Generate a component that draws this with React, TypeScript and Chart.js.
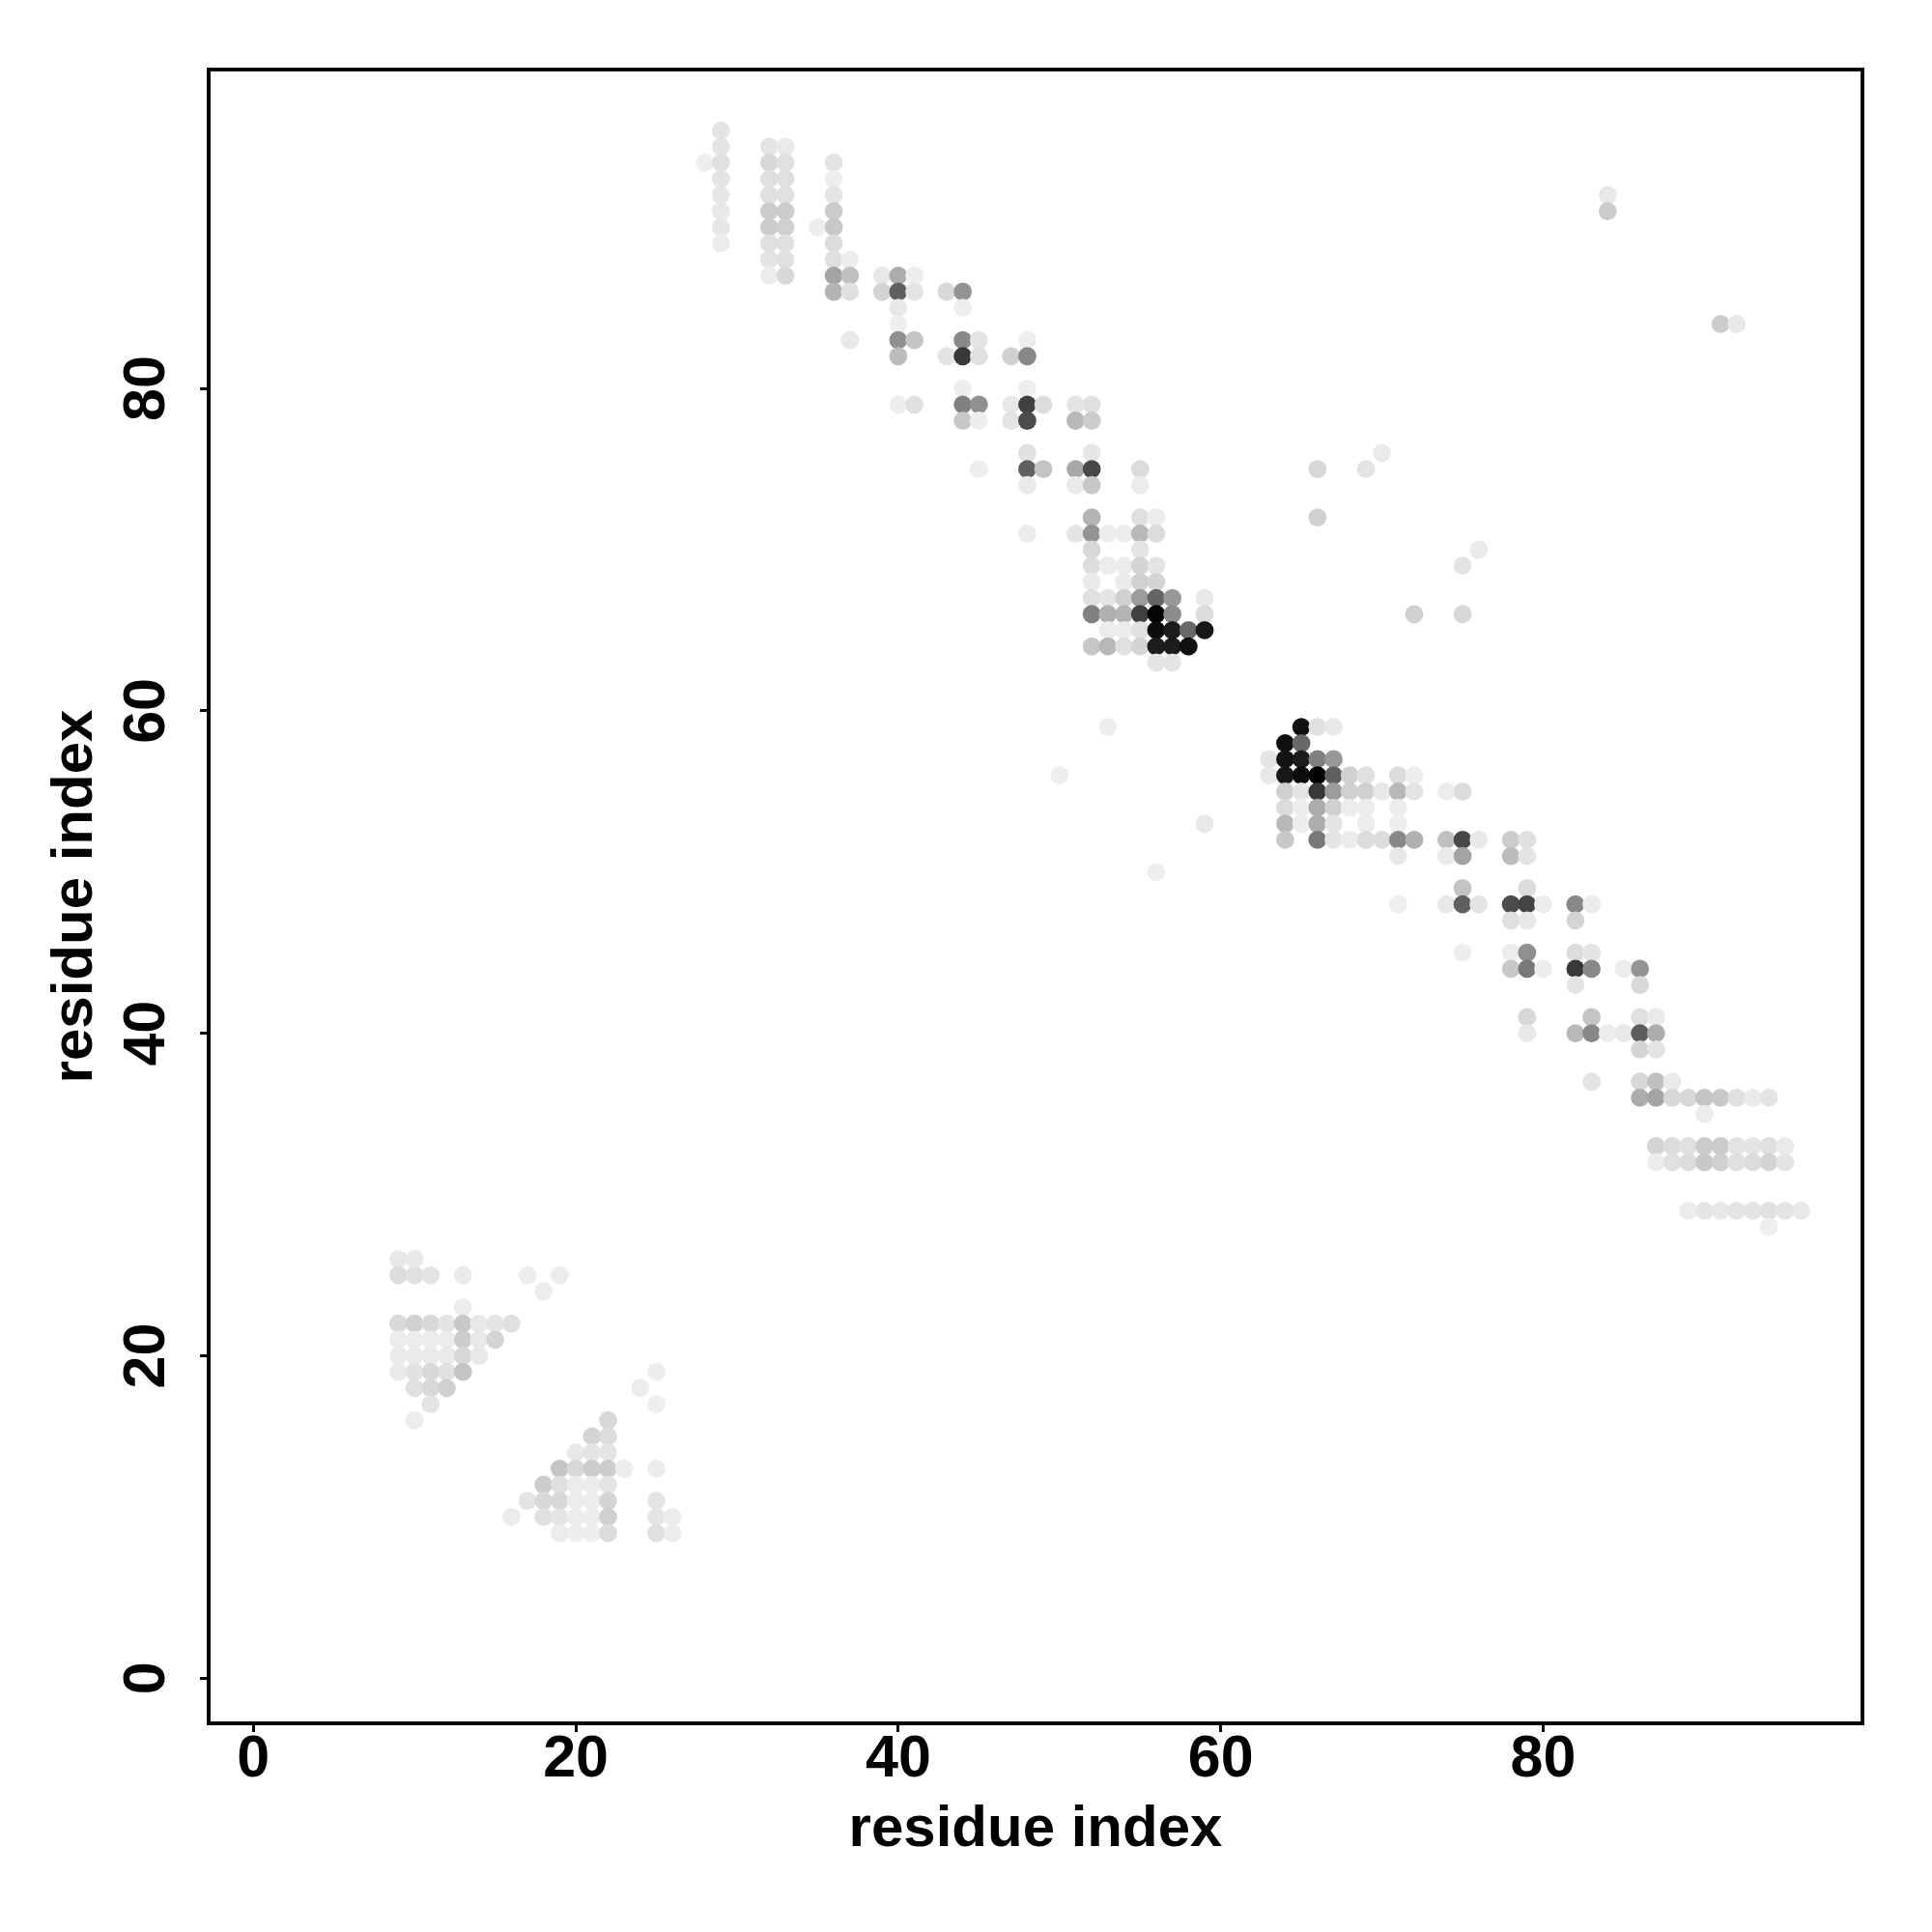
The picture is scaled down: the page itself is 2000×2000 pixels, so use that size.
import React, { useEffect, useRef } from "react";
import { Chart, registerables } from "chart.js";

Chart.register(...registerables);

const tickValues = [0, 20, 40, 60, 80];
const axisLabel = "residue index";

// One entry per row of the contact map: residue on y, residues on x, grey level of each dot.
const rowY = [
  96, 95, 94, 93, 92, 91, 90, 89, 88, 87, 86, 85, 84, 83, 82, 80, 79, 78, 76, 75, 74, 72, 71, 70, 69, 68, 67, 66, 65,
  64, 63, 59, 58, 57, 56, 55, 54, 53, 52, 51, 50, 49, 48, 47, 45, 44, 43, 41, 40, 39, 37, 36, 35, 33, 32, 29, 28, 26,
  25, 24, 23, 22, 21, 20, 19, 18, 17, 16, 15, 14, 13, 12, 11, 10, 9,
];
const rowX = [
  [29],
  [29, 32, 33],
  [28, 29, 32, 33, 36],
  [29, 32, 33, 36],
  [29, 32, 33, 36, 84],
  [29, 32, 33, 36, 84],
  [29, 32, 33, 35, 36],
  [29, 32, 33, 36],
  [32, 33, 36, 37],
  [32, 33, 36, 37, 39, 40, 41],
  [36, 37, 39, 40, 41, 43, 44],
  [40, 44],
  [40, 91, 92],
  [37, 40, 41, 44, 45, 48],
  [40, 43, 44, 45, 47, 48],
  [44, 48],
  [40, 41, 44, 45, 47, 48, 49, 51, 52],
  [44, 45, 47, 48, 51, 52],
  [48, 52, 70],
  [45, 48, 49, 51, 52, 55, 66, 69],
  [48, 51, 52, 55],
  [52, 55, 56, 66],
  [48, 51, 52, 53, 54, 55, 56],
  [52, 55, 76],
  [52, 53, 54, 55, 56, 75],
  [52, 54, 55, 56],
  [52, 53, 54, 55, 56, 57, 59],
  [52, 53, 54, 55, 56, 57, 59, 72, 75],
  [53, 54, 55, 56, 57, 58, 59],
  [52, 53, 54, 55, 56, 57, 58],
  [56, 57],
  [53, 65, 66, 67],
  [64, 65],
  [63, 64, 65, 66, 67],
  [50, 63, 64, 65, 66, 67, 68, 69, 71, 72],
  [64, 65, 66, 67, 68, 69, 70, 71, 72, 74, 75],
  [64, 65, 66, 67, 68, 69, 71],
  [59, 64, 65, 66, 67, 69, 71],
  [64, 66, 67, 68, 69, 70, 71, 72, 74, 75, 76, 78, 79],
  [71, 74, 75, 78, 79],
  [56],
  [75, 79],
  [71, 74, 75, 76, 78, 79, 80, 82, 83],
  [78, 79, 82],
  [75, 78, 79, 82, 83],
  [78, 79, 80, 82, 83, 85, 86],
  [82, 86],
  [79, 83, 86, 87],
  [79, 82, 83, 84, 85, 86, 87],
  [86, 87],
  [83, 86, 87, 88],
  [86, 87, 88, 89, 90, 91, 92, 93, 94],
  [90],
  [87, 88, 89, 90, 91, 92, 93, 94, 95],
  [87, 88, 89, 90, 91, 92, 93, 94, 95],
  [89, 90, 91, 92, 93, 94, 95, 96],
  [94],
  [9, 10],
  [9, 10, 11, 13, 17, 19],
  [18],
  [13],
  [9, 10, 11, 12, 13, 14, 15, 16],
  [9, 10, 11, 12, 13, 14, 15],
  [9, 10, 11, 12, 13, 14],
  [9, 10, 11, 12, 13, 25],
  [10, 11, 12, 24],
  [11, 25],
  [10, 22],
  [21, 22],
  [20, 21, 22],
  [19, 20, 21, 22, 23, 25],
  [18, 19, 20, 21, 22],
  [17, 18, 19, 20, 21, 22, 25],
  [16, 18, 19, 20, 21, 22, 25, 26],
  [19, 20, 21, 22, 25, 26],
];
const rowShade = [
  [0xe4],
  [0xe4, 0xe4, 0xea],
  [0xee, 0xe0, 0xd8, 0xe0, 0xe4],
  [0xe4, 0xe0, 0xe0, 0xee],
  [0xe6, 0xe0, 0xe0, 0xe4, 0xe8],
  [0xe8, 0xcc, 0xcc, 0xcc, 0xcc],
  [0xe6, 0xcc, 0xd0, 0xee, 0xc8],
  [0xec, 0xe0, 0xe0, 0xdc],
  [0xe4, 0xe0, 0xe0, 0xee],
  [0xec, 0xd8, 0xa4, 0xc0, 0xe8, 0xac, 0xee],
  [0xb4, 0xe0, 0xd4, 0x60, 0xe4, 0xd8, 0x94],
  [0xe8, 0xee],
  [0xee, 0xcc, 0xe8],
  [0xe8, 0x90, 0xc4, 0x88, 0xe4, 0xee],
  [0xbc, 0xe4, 0x38, 0xe0, 0xd0, 0x88],
  [0xee, 0xee],
  [0xee, 0xe0, 0x80, 0x90, 0xe8, 0x40, 0xdc, 0xe4, 0xe0],
  [0xc8, 0xee, 0xe4, 0x4c, 0xb8, 0xcc],
  [0xe0, 0xe6, 0xea],
  [0xee, 0x60, 0xc4, 0xa8, 0x48, 0xdc, 0xd8, 0xe4],
  [0xea, 0xea, 0xc8, 0xec],
  [0xb4, 0xe0, 0xec, 0xd0],
  [0xec, 0xe4, 0x94, 0xec, 0xec, 0xb8, 0xdc],
  [0xd8, 0xe4, 0xea],
  [0xdc, 0xec, 0xec, 0xd4, 0xe4, 0xe4],
  [0xea, 0xea, 0xd0, 0xd4],
  [0xe0, 0xe4, 0xd0, 0x9c, 0x64, 0x98, 0xe8],
  [0x80, 0xb0, 0xb4, 0x40, 0x04, 0x8c, 0xdc, 0xd0, 0xd8],
  [0xec, 0xec, 0xe0, 0x0c, 0x1c, 0x68, 0x18],
  [0xc8, 0xb8, 0xe0, 0xd4, 0x1c, 0x1c, 0x10],
  [0xe4, 0xe4],
  [0xee, 0x10, 0xe0, 0xe8],
  [0x10, 0x68],
  [0xe4, 0x14, 0x1c, 0x80, 0x98],
  [0xee, 0xe8, 0x18, 0x0c, 0x00, 0x60, 0xd0, 0xe0, 0xdc, 0xee],
  [0xd0, 0xe4, 0x38, 0x9c, 0xd0, 0xd0, 0xe8, 0xb8, 0xe4, 0xec, 0xdc],
  [0xdc, 0xee, 0xac, 0xd0, 0xec, 0xec, 0xec],
  [0xe8, 0xb8, 0xee, 0xac, 0xe4, 0xec, 0xee],
  [0xc8, 0x78, 0xe4, 0xec, 0xdc, 0xdc, 0x88, 0xb0, 0xc0, 0x48, 0xe8, 0xcc, 0xe0],
  [0xe8, 0xea, 0xa4, 0xbc, 0xe4],
  [0xee],
  [0xc4, 0xdc],
  [0xee, 0xe8, 0x60, 0xe4, 0x4c, 0x44, 0xec, 0x88, 0xec],
  [0xe0, 0xe8, 0xd4],
  [0xee, 0xec, 0x90, 0xdc, 0xe4],
  [0xc8, 0x78, 0xec, 0x38, 0x88, 0xec, 0x94],
  [0xe4, 0xd8],
  [0xd8, 0xc4, 0xe0, 0xea],
  [0xe8, 0xb8, 0x88, 0xec, 0xe8, 0x5c, 0xac],
  [0xd4, 0xe4],
  [0xe4, 0xd8, 0xc0, 0xea],
  [0xac, 0xa4, 0xd8, 0xd8, 0xc4, 0xc8, 0xe0, 0xea, 0xe4],
  [0xec],
  [0xd4, 0xdc, 0xe0, 0xcc, 0xcc, 0xe4, 0xe4, 0xe0, 0xea],
  [0xec, 0xe0, 0xdc, 0xc8, 0xd0, 0xe0, 0xdc, 0xd4, 0xe4],
  [0xec, 0xe4, 0xe8, 0xe4, 0xe4, 0xe0, 0xe4, 0xe8],
  [0xee],
  [0xe8, 0xe8],
  [0xdc, 0xe0, 0xe4, 0xea, 0xec, 0xec],
  [0xec],
  [0xec],
  [0xd8, 0xd0, 0xd8, 0xe4, 0xc8, 0xe8, 0xe4, 0xe0],
  [0xec, 0xec, 0xec, 0xec, 0xcc, 0xe8, 0xd4],
  [0xea, 0xea, 0xea, 0xea, 0xd8, 0xe8],
  [0xea, 0xe2, 0xd8, 0xe0, 0xc4, 0xee],
  [0xe0, 0xd8, 0xd0, 0xec],
  [0xe4, 0xee],
  [0xec, 0xd8],
  [0xd4, 0xdc],
  [0xe8, 0xe4, 0xe4],
  [0xc4, 0xd8, 0xcc, 0xcc, 0xec, 0xec],
  [0xcc, 0xe0, 0xec, 0xec, 0xe4],
  [0xe4, 0xd8, 0xd8, 0xec, 0xec, 0xd4, 0xe4],
  [0xec, 0xe0, 0xe4, 0xec, 0xec, 0xd0, 0xe4, 0xec],
  [0xec, 0xee, 0xee, 0xdc, 0xe0, 0xec],
];

const FONT = '"Liberation Sans", Arial, sans-serif';

const framePlugin = {
  id: "frame",
  afterDraw(chart: any) {
    const { ctx, chartArea: a } = chart;
    ctx.save();
    ctx.strokeStyle = "#000";
    ctx.lineWidth = 3.8;
    ctx.strokeRect(a.left, a.top, a.right - a.left, a.bottom - a.top);
    ctx.restore();
  },
};

export default function App() {
  const ref = useRef<HTMLCanvasElement>(null);
  useEffect(() => {
    const points: { x: number; y: number }[] = [];
    const colours: string[] = [];
    rowY.forEach((y, i) => {
      rowX[i].forEach((x, j) => {
        const s = rowShade[i][j];
        points.push({ x, y });
        colours.push(`rgb(${s},${s},${s})`);
      });
    });
    const fixTicks = (scale: any) => {
      scale.ticks = tickValues.map((value) => ({ value }));
    };
    const chart = new Chart(ref.current!, {
      type: "scatter",
      data: {
        datasets: [
          {
            data: points,
            pointRadius: 9.4,
            pointBorderWidth: 0,
            pointBackgroundColor: colours,
            showLine: false,
          },
        ],
      },
      options: {
        animation: false,
        responsive: false,
        devicePixelRatio: 1,
        layout: { padding: { top: 72, right: 72, left: 0, bottom: 0 } },
        plugins: { legend: { display: false }, tooltip: { enabled: false } },
        scales: {
          x: {
            type: "linear",
            min: -2.77,
            max: 99.8,
            afterBuildTicks: fixTicks,
            afterFit: (s: any) => {
              s.height = 216;
            },
            grid: { display: true, drawOnChartArea: false, drawTicks: true, tickLength: 9, tickWidth: 3, tickColor: "#000" },
            border: { display: true, color: "#000", width: 3.8 },
            ticks: {
              autoSkip: false,
              maxRotation: 0,
              minRotation: 0,
              padding: -7,
              color: "#000",
              font: { family: FONT, size: 61, weight: "bold" },
            },
            title: {
              display: true,
              text: axisLabel,
              color: "#000",
              font: { family: FONT, size: 60, weight: "bold" },
              padding: { top: 0, bottom: 70 },
            },
          },
          y: {
            type: "linear",
            min: -2.8,
            max: 99.78,
            afterBuildTicks: fixTicks,
            afterFit: (s: any) => {
              s.width = 216;
            },
            grid: { display: true, drawOnChartArea: false, drawTicks: true, tickLength: 9, tickWidth: 3, tickColor: "#000" },
            border: { display: true, color: "#000", width: 3.8 },
            ticks: {
              autoSkip: false,
              minRotation: 90,
              maxRotation: 90,
              crossAlign: "center",
              padding: 20,
              color: "#000",
              font: { family: FONT, size: 61, weight: "bold" },
            },
            title: {
              display: true,
              text: axisLabel,
              color: "#000",
              font: { family: FONT, size: 60, weight: "bold" },
              padding: { top: 42, bottom: 0 },
            },
          },
        },
      },
      plugins: [framePlugin],
    } as any);
    return () => chart.destroy();
  }, []);
  return (
    <div style={{ position: "absolute", left: 0, top: 0, width: 2000, height: 2000, background: "#fff" }}>
      <canvas ref={ref} width={2000} height={2000} style={{ display: "block", width: 2000, height: 2000 }} />
    </div>
  );
}
